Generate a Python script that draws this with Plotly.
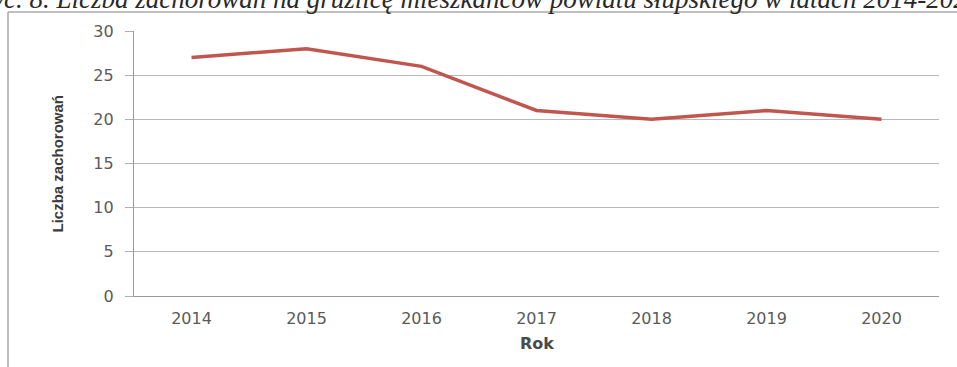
import plotly.graph_objects as go

years = ["2014", "2015", "2016", "2017", "2018", "2019", "2020"]
cases = [27, 28, 26, 21, 20, 21, 20]
y_ticks = [0, 5, 10, 15, 20, 25, 30]

title_text = "Ryc. 8. Liczba zachorowań na gruźlicę mieszkańców powiatu słupskiego w latach 2014-2020"
y_title = "Liczba zachorowań"
x_title = "Rok"

W, H = 957, 367
L, R, T, B = 134, 18, 31, 71
pw, ph = W - L - R, H - T - B

def px_x(x):
    return (x - L) / pw

def px_y(y):
    return 1 - (y - T) / ph

fig = go.Figure()
fig.add_trace(go.Scatter(
    x=years, y=cases, mode="lines",
    line=dict(color="#c0574f", width=3.5),
    showlegend=False, hoverinfo="x+y",
))

tick_font = dict(family="DejaVu Sans, Open Sans, sans-serif", size=16, color="#5a5a5a")

fig.update_layout(
    width=W, height=H,
    margin=dict(l=L, r=R, t=T, b=B),
    paper_bgcolor="white", plot_bgcolor="white",
    xaxis=dict(
        type="category", range=[-0.5, len(years) - 0.5], showgrid=False, showline=True,
        linecolor="#9a9a9a", linewidth=1.2,
        ticks="", tickfont=tick_font, ticklabelstandoff=8, zeroline=False,
    ),
    yaxis=dict(
        range=[0, 30], tickvals=y_ticks, showgrid=True, gridcolor="#b9b9b9", gridwidth=1,
        showline=True, linecolor="#9a9a9a", linewidth=1.2, ticks="outside", ticklen=8,
        tickcolor="#b0b0b0", tickfont=tick_font, ticklabelstandoff=8, zeroline=False,
    ),
    annotations=[
        dict(text=title_text, xref="paper", yref="paper", x=px_x(478), y=px_y(-1),
             xanchor="center", yanchor="middle", showarrow=False,
             font=dict(family="Liberation Serif, Times New Roman, serif", size=27,
                       color="#2a2a2a", style="italic")),
        dict(text=y_title, xref="paper", yref="paper", x=px_x(57), y=0.5, textangle=-90,
             xanchor="center", yanchor="middle", showarrow=False,
             font=dict(family="Liberation Sans, Arial, sans-serif", size=15,
                       color="#3a3a3a", weight="bold")),
        dict(text=x_title, xref="paper", yref="paper", x=0.5, y=px_y(343),
             xanchor="center", yanchor="middle", showarrow=False,
             font=dict(family="DejaVu Sans, sans-serif", size=16, color="#4a4a4a", weight="bold")),
    ],
    shapes=[
        dict(type="line", xref="paper", yref="paper", x0=px_x(8), x1=px_x(W + 5),
             y0=px_y(12), y1=px_y(12), line=dict(color="#a8a8a8", width=1.5)),
        dict(type="line", xref="paper", yref="paper", x0=px_x(8), x1=px_x(8),
             y0=px_y(12), y1=px_y(H + 5), line=dict(color="#a8a8a8", width=1.5)),
    ],
)

fig.write_html("out.html")
